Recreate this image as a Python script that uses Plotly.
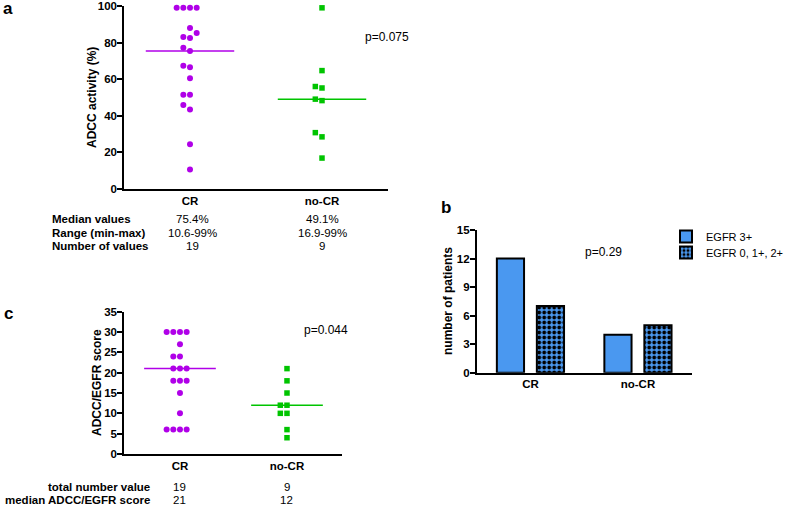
import numpy as np
import plotly.graph_objects as go

W, H = 790, 507

groups = ["CR", "no-CR"]

# a: ADCC activity (%) per patient
adcc_cr = [99, 99, 99, 99, 88.0, 85.2, 83.1, 82.5, 77.2, 75.4, 67.4, 66.5,
           60.5, 51.5, 51.5, 45.9, 43.5, 24.4, 10.6]
adcc_nocr = [99, 64.7, 56.0, 55.2, 49.1, 48.3, 30.8, 28.5, 16.9]

# b: number of patients by EGFR status
egfr_3 = [12, 4]
egfr_012 = [7, 5]

# c: ADCC/EGFR score per patient
score_cr = [30, 30, 30, 30, 27, 24, 24, 21, 21, 21, 18, 18, 18, 15, 10, 6, 6, 6, 6]
score_nocr = [21, 18, 15, 12, 12, 10, 10, 6, 4]

table_a_labels = ["Median values", "Range (min-max)", "Number of values"]
table_a_cr = ["75.4%", "10.6-99%", "19"]
table_a_nocr = ["49.1%", "16.9-99%", "9"]

table_c_labels = ["total number value", "median ADCC/EGFR score"]
table_c_cr = ["19", "21"]
table_c_nocr = ["9", "12"]

FONT = "Liberation Sans, Arial, sans-serif"
PURPLE = "#b000e8"
GREEN = "#00c400"
BLUE = "#4a98f0"


def px(x):
    return x / W


def py(y):
    return 1 - y / H


def swarm(vals, px_per_unit, min_dist=6.0):
    # spread overlapping points sideways, like a column scatter plot
    vals = np.asarray(vals, dtype=float)
    slots = [0, -1, 1, -2, 2, -3, 3]
    placed = []
    out = np.zeros(len(vals))
    for i in np.argsort(vals, kind="stable"):
        y = vals[i] * px_per_unit
        for s in slots:
            if all(not (ps == s and abs(yy - y) < min_dist) for ps, yy in placed):
                break
        placed.append((s, y))
        out[i] = s
    return out


fig = go.Figure()


def dot_column(vals, pos, color, symbol, xa, ya, px_unit, step, size):
    off = swarm(vals, px_unit) * step
    fig.add_trace(go.Scatter(
        x=pos + off, y=vals, mode="markers", xaxis=xa, yaxis=ya,
        marker=dict(color=color, symbol=symbol, size=size, line=dict(width=0)),
        showlegend=False, cliponaxis=False, hoverinfo="y"))
    med = float(np.median(vals))
    fig.add_trace(go.Scatter(
        x=[pos - 0.335, pos + 0.335], y=[med, med], mode="lines",
        xaxis=xa, yaxis=ya, line=dict(color=color, width=1.5),
        showlegend=False, hoverinfo="skip"))


# panel a
dot_column(adcc_cr, 1, PURPLE, "circle", "x", "y", 183 / 100, 6.67 / 132, 6)
dot_column(adcc_nocr, 2, GREEN, "square", "x", "y", 183 / 100, 6.67 / 132, 5.5)

# panel c
dot_column(score_cr, 1, PURPLE, "circle", "x3", "y3", 142.6 / 35, 6.67 / 107, 6)
dot_column(score_nocr, 2, GREEN, "square", "x3", "y3", 142.6 / 35, 6.67 / 107, 5.5)

# panel b
fig.add_trace(go.Bar(
    x=groups, y=egfr_3, name="EGFR 3+", xaxis="x2", yaxis="y2", legend="legend",
    marker=dict(color=BLUE, line=dict(color="black", width=2))))
fig.add_trace(go.Bar(
    x=groups, y=egfr_012, name="EGFR 0, 1+, 2+", xaxis="x2", yaxis="y2",
    legend="legend2",
    marker=dict(color=BLUE, line=dict(color="black", width=2),
                pattern=dict(shape=".", fgcolor="black", bgcolor=BLUE,
                             size=5, solidity=0.45, fillmode="replace"))))

tickfont = dict(family=FONT, size=11.5, color="black", weight="bold")
axis_common = dict(showline=True, linecolor="black", linewidth=1.5,
                   showgrid=False, zeroline=False, tickfont=tickfont,
                   ticks="outside", ticklen=5, tickwidth=1.5, tickcolor="black",
                   ticklabelstandoff=-2, automargin=False)
xcommon = dict(axis_common, ticks="", ticklabelstandoff=0)

leg = dict(x=px(666), xanchor="left", yanchor="top",
           font=dict(family=FONT, size=11), bgcolor="rgba(0,0,0,0)", itemwidth=30)

fig.update_layout(
    width=W, height=H,
    margin=dict(l=0, r=0, t=0, b=0, autoexpand=False),
    paper_bgcolor="white", plot_bgcolor="white",
    font=dict(family=FONT, size=11.5, color="black"),
    barmode="group", bargap=0.256, bargroupgap=0.32,
    xaxis=dict(xcommon, domain=[px(124), px(388)], range=[0.5, 2.5],
               tickvals=[1, 2], ticktext=groups, anchor="y"),
    yaxis=dict(axis_common, domain=[py(189), py(6)], range=[0, 100],
               tickvals=[0, 20, 40, 60, 80, 100], anchor="x"),
    xaxis3=dict(xcommon, domain=[px(124), px(342)], range=[0.477, 2.514],
                tickvals=[1, 2], ticktext=groups, anchor="y3"),
    yaxis3=dict(axis_common, domain=[py(454), py(311.7)], range=[0, 35],
                tickvals=[0, 5, 10, 15, 20, 25, 30, 35], anchor="x3"),
    xaxis2=dict(xcommon, domain=[px(476.7), px(691.7)], range=[-0.5, 1.5],
                type="category", anchor="y2"),
    yaxis2=dict(axis_common, domain=[py(372.7), py(230)], range=[0, 15],
                tickvals=[0, 3, 6, 9, 12, 15], anchor="x2"),
    legend=dict(leg, y=py(222)),
    legend2=dict(leg, y=py(238)),
)

ann = []


def text(x, y, s, size=11.5, bold=False, xanchor="center", xref="paper", angle=0):
    ann.append(dict(x=x, y=py(y), xref=xref, yref="paper", text=s, showarrow=False,
                    xanchor=xanchor, yanchor="middle", textangle=angle,
                    font=dict(family=FONT, size=size, color="black",
                              weight="bold" if bold else "normal")))


# panel letters
text(px(8), 9, "a", size=17, bold=True)
text(px(446), 207, "b", size=17, bold=True)
text(px(8), 313, "c", size=17, bold=True)

# axis titles
text(px(92.5), 97.5, "ADCC activity (%)", size=12, bold=True, angle=-90)
text(px(448), 301, "number of patients", size=12, bold=True, angle=-90)
text(px(97), 383, "ADCC/EGFR score", size=12, bold=True, angle=-90)

# p values
text(px(386.5), 37, "p=0.075", size=12)
text(px(603.7), 252, "p=0.29", size=12)
text(px(326), 330, "p=0.044", size=12)

# table under a
for i, (lab, v1, v2) in enumerate(zip(table_a_labels, table_a_cr, table_a_nocr)):
    yy = 219 + i * 13.5
    text(px(50), yy, lab, bold=True, xanchor="left")
    text(1.02, yy, v1, xref="x")
    text(2.0, yy, v2, xref="x")

# table under c
for i, (lab, v1, v2) in enumerate(zip(table_c_labels, table_c_cr, table_c_nocr)):
    yy = 486.5 + i * 13.5
    text(px(152), yy, lab, bold=True, xanchor="right")
    text(1, yy, v1, xref="x3")
    text(2, yy, v2, xref="x3")

fig.update_layout(annotations=ann)

# the page body has a default margin; drop it so the figure sits at the window corner
fig.write_html("out.html", config={"displayModeBar": False},
               post_script="document.body.style.margin='0';")
